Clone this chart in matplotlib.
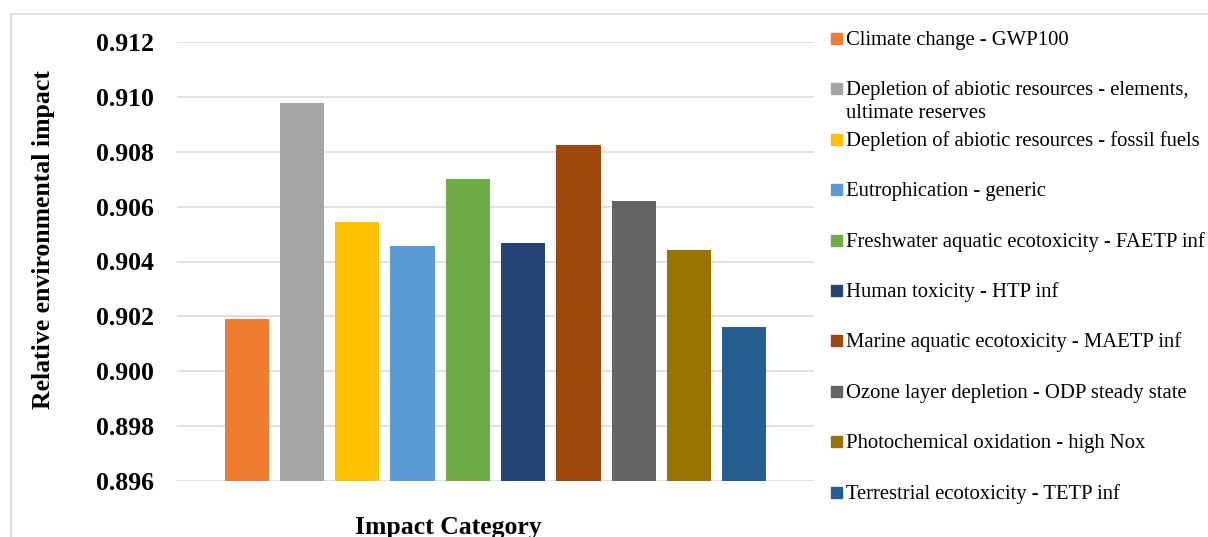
import matplotlib

matplotlib.use("Agg")

import matplotlib.pyplot as plt  # noqa: E402
from matplotlib.patches import Rectangle  # noqa: E402

W, H = 1208, 537
SERIF = ["Liberation Serif", "DejaVu Serif"]

categories = [
    "Climate change - GWP100",
    "Depletion of abiotic resources - elements,\nultimate reserves",
    "Depletion of abiotic resources - fossil fuels",
    "Eutrophication - generic",
    "Freshwater aquatic ecotoxicity - FAETP inf",
    "Human toxicity - HTP inf",
    "Marine aquatic ecotoxicity - MAETP inf",
    "Ozone layer depletion - ODP steady state",
    "Photochemical oxidation - high Nox",
    "Terrestrial ecotoxicity - TETP inf",
]
values = [0.90191, 0.90977, 0.90544, 0.90457, 0.90700,
          0.90467, 0.90825, 0.90621, 0.90442, 0.90161]
colors = ["#ED7D31", "#A5A5A5", "#FFC000", "#5B9BD5", "#70AD47",
          "#264478", "#9E480E", "#636363", "#997300", "#255E91"]
y_ticks = [0.896, 0.898, 0.900, 0.902, 0.904, 0.906, 0.908, 0.910, 0.912]


def fx(px):
    return px / W


def fy(py):
    return 1 - py / H


fig = plt.figure(figsize=(W / 100, H / 100), dpi=100)
fig.patch.set_facecolor("white")

# chart-area border, runs off the right and bottom of the picture
fig.add_artist(Rectangle((fx(11), -0.2), 1.2, fy(13.5) + 0.2, transform=fig.transFigure,
                         fill=False, edgecolor="#d9d9d9", linewidth=1.2))

ax = fig.add_axes([fx(177), fy(481), fx(814) - fx(177), fy(42) - fy(481)])
x = list(range(len(values)))
ax.bar(x, [v - y_ticks[0] for v in values], bottom=y_ticks[0], width=0.8,
       color=colors, zorder=3)
ax.set_xlim(-1.26, len(values) - 1 + 1.26)
ax.set_ylim(y_ticks[0], y_ticks[-1])
ax.set_yticks(y_ticks)
ax.set_yticklabels([f"{t:.3f}" for t in y_ticks], fontsize=18.5, fontweight="bold",
                   family=SERIF)
ax.set_xticks([])
ax.tick_params(axis="y", length=0, pad=16.5)
ax.grid(True, axis="y", color="#d9d9d9", linewidth=1.1, zorder=0)
for side in ax.spines.values():
    side.set_visible(False)

fig.text(fx(44), fy(240), "Relative environmental impact", rotation=90, ha="center",
         va="center", fontsize=18.5, fontweight="bold", family=SERIF)
fig.text(fx(448), fy(534), "Impact Category", ha="center", va="baseline",
         fontsize=18.5, fontweight="bold", family=SERIF)

# legend, laid out the way the spreadsheet does it
for i, (label, color) in enumerate(zip(categories, colors)):
    cy = 38.5 + 50.4 * i
    fig.add_artist(Rectangle((fx(831), fy(cy + 5.5)), fx(11), 11 / H,
                             transform=fig.transFigure, color=color))
    for j, line in enumerate(label.split("\n")):
        fig.text(fx(846), fy(cy + 6.5 + 23 * j), line, ha="left", va="baseline",
                 fontsize=14.9, family=SERIF)

fig.savefig("out.png", dpi=100)
